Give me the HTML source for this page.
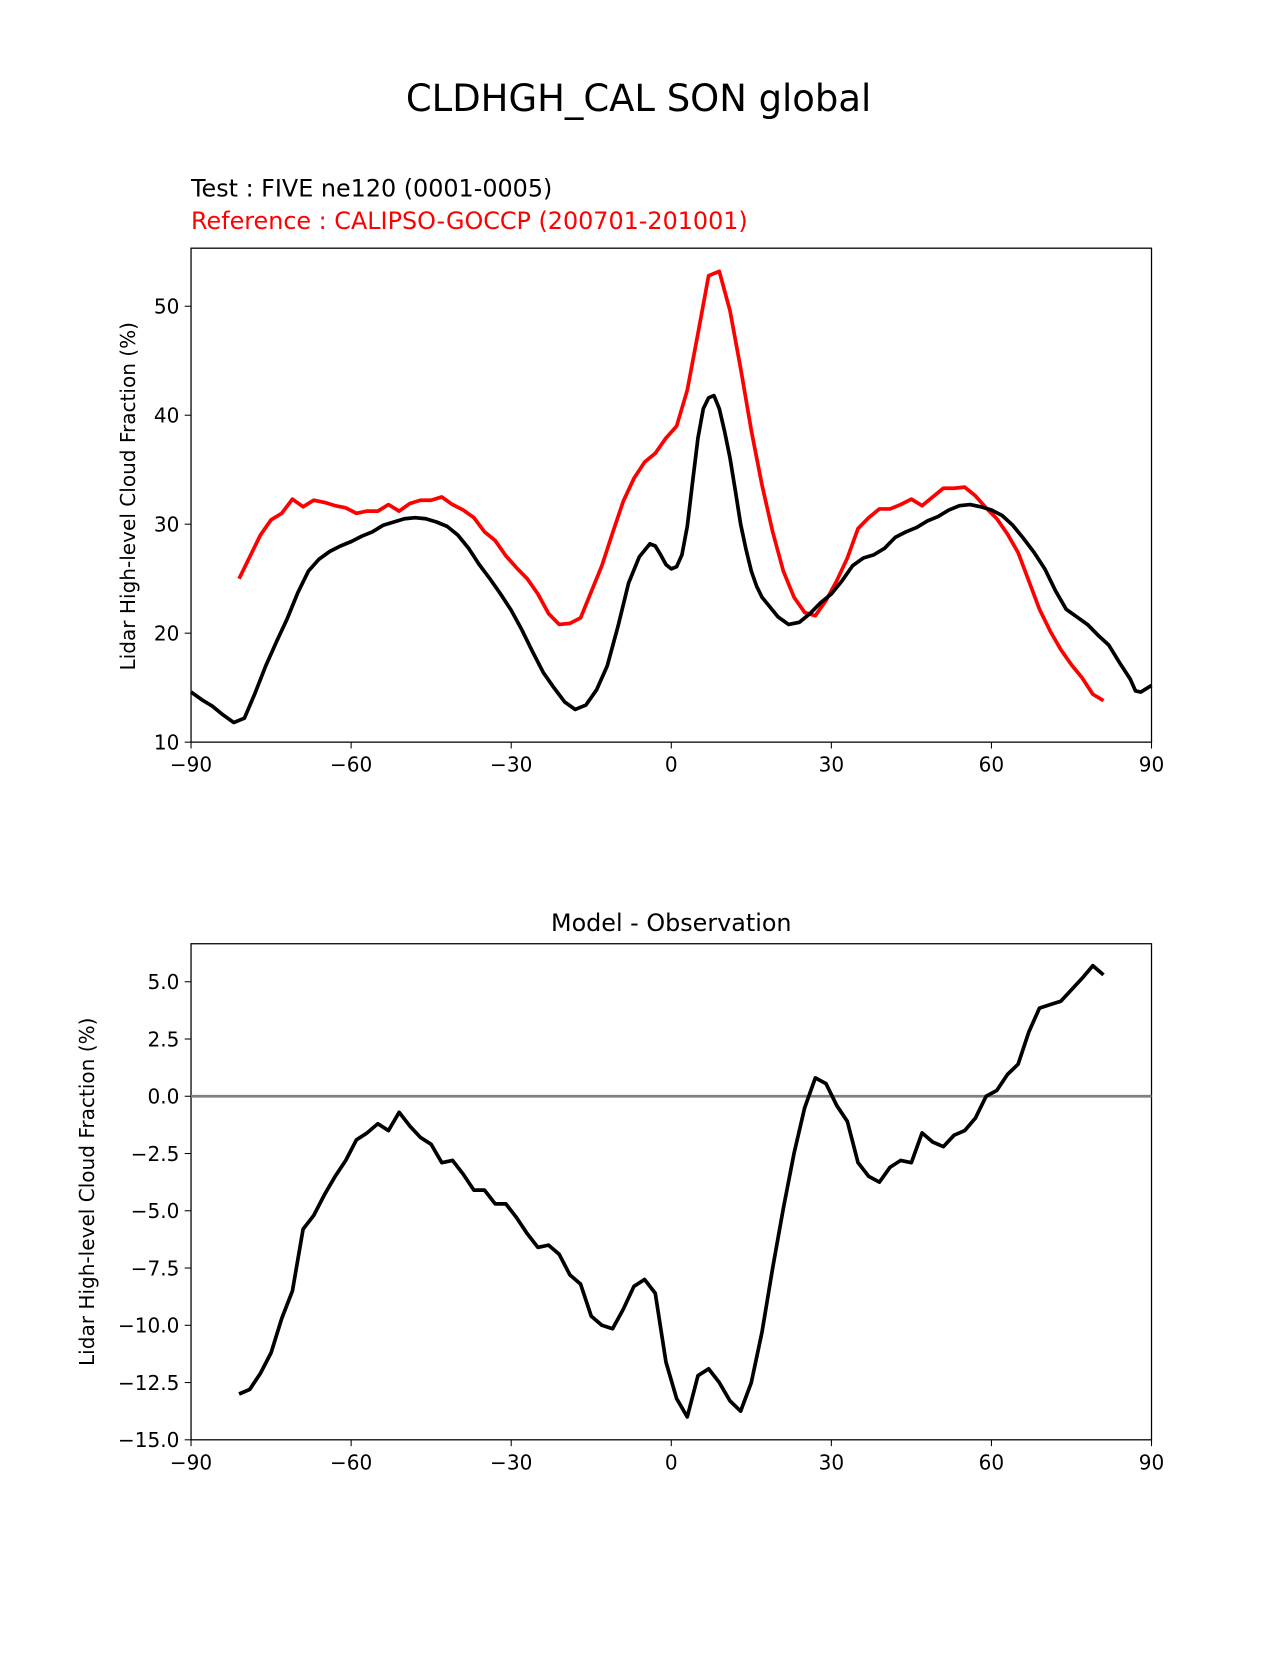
<!DOCTYPE html>
<html><head><meta charset="utf-8"><style>
body{margin:0;background:#fff}
svg text{font-family:"DejaVu Sans","Liberation Sans",sans-serif}
</style></head><body>
<svg id="s" width="1275" height="1650" viewBox="0 0 1208 1563" xmlns="http://www.w3.org/2000/svg">
<text x="605" y="105" font-size="35" text-anchor="middle">CLDHGH_CAL SON global</text>
<text x="181" y="186" font-size="22.6">Test : FIVE ne120 (0001-0005)</text>
<text x="181" y="217" font-size="22.6" fill="red">Reference : CALIPSO-GOCCP (200701-201001)</text>
<text x="636" y="882" font-size="22.6" text-anchor="middle">Model - Observation</text>
<g id="g"></g>
</svg>
<script>
const refLat=[-81,-79,-77,-75,-73,-71,-69,-67,-65,-63,-61,-59,-57,-55,-53,-51,-49,-47,-45,-43,-41,-39,-37,-35,-33,-31,-29,-27,-25,-23,-21,-19,-17,-15,-13,-11,-9,-7,-5,-3,-1,1,3,5,7,9,11,13,15,17,19,21,23,25,27,29,31,33,35,37,39,41,43,45,47,49,51,53,55,57,59,61,63,65,67,69,71,73,75,77,79,81];
const refVals=[25,27,29,30.4,31,32.3,31.6,32.2,32,31.7,31.5,31,31.2,31.2,31.8,31.2,31.9,32.2,32.2,32.5,31.8,31.3,30.6,29.3,28.5,27.1,26,25,23.6,21.8,20.8,20.9,21.4,23.8,26.2,29.2,32.1,34.2,35.7,36.5,37.9,39,42.3,47.5,52.8,53.2,49.6,44.3,38.6,33.6,29.3,25.7,23.3,21.9,21.6,23,24.8,26.9,29.6,30.6,31.4,31.4,31.8,32.3,31.7,32.5,33.3,33.3,33.4,32.6,31.5,30.5,29.1,27.4,24.8,22.2,20.2,18.5,17.1,15.9,14.4,13.8];
const testLat=[-90,-88,-86,-84,-82,-80,-78,-76,-74,-72,-70,-68,-66,-64,-62,-60,-58,-56,-54,-52,-50,-48,-46,-44,-42,-40,-38,-36,-34,-32,-30,-28,-26,-24,-22,-20,-18,-16,-14,-12,-10,-8,-6,-4,-3,-2,-1,0,1,2,3,4,5,6,7,8,9,10,11,12,13,14,15,16,17,18,20,22,24,26,28,30,32,34,36,38,40,42,44,46,48,50,52,54,56,58,60,62,64,66,68,70,72,74,76,78,80,82,84,86,87,88,90];
const testVals=[14.6,13.9,13.3,12.5,11.8,12.2,14.5,17,19.2,21.3,23.7,25.7,26.8,27.5,28,28.4,28.9,29.3,29.9,30.2,30.5,30.6,30.5,30.2,29.8,29,27.8,26.3,25,23.6,22.1,20.3,18.3,16.4,15,13.7,13,13.4,14.8,17,20.6,24.6,27,28.2,28,27.2,26.3,25.9,26.1,27.2,29.8,33.9,37.9,40.6,41.6,41.8,40.6,38.5,36.1,33.1,30,27.7,25.7,24.3,23.3,22.7,21.5,20.8,21,21.8,22.8,23.6,24.8,26.2,26.9,27.2,27.8,28.8,29.3,29.7,30.3,30.7,31.3,31.7,31.8,31.6,31.3,30.8,29.9,28.7,27.4,25.9,23.9,22.2,21.5,20.8,19.8,18.9,17.3,15.8,14.7,14.6,15.2];
const diffVals=[-13,-12.8,-12.1,-11.2,-9.7,-8.5,-5.8,-5.2,-4.3,-3.5,-2.8,-1.9,-1.6,-1.2,-1.5,-0.7,-1.3,-1.8,-2.1,-2.9,-2.8,-3.4,-4.1,-4.1,-4.7,-4.7,-5.3,-6,-6.6,-6.5,-6.9,-7.8,-8.2,-9.6,-10,-10.15,-9.3,-8.3,-8,-8.6,-11.6,-13.2,-14,-12.2,-11.9,-12.5,-13.3,-13.75,-12.5,-10.3,-7.5,-4.9,-2.5,-0.5,0.8,0.55,-0.4,-1.1,-2.9,-3.5,-3.75,-3.1,-2.8,-2.9,-1.6,-2,-2.2,-1.7,-1.5,-0.95,0,0.25,0.95,1.4,2.8,3.85,4,4.15,4.65,5.15,5.7,5.3];
const xTicks=[-90,-60,-30,0,30,60,90];
const topTicks=[10,20,30,40,50];
const botTicks=[-15,-12.5,-10,-7.5,-5,-2.5,0,2.5,5];
const botTickLabels=["\u221215.0","\u221212.5","\u221210.0","\u22127.5","\u22125.0","\u22122.5","0.0","2.5","5.0"];

const NS="http://www.w3.org/2000/svg",g=document.getElementById('g');
function mk(t,a,p){const e=document.createElementNS(NS,t);for(const k in a)e.setAttribute(k,a[k]);(p||g).appendChild(e);return e;}
const X=v=>181+(v+90)*910/180;
const Y1=v=>703-(v-10)*413/40;
const Y2=v=>1364-(v+15)*434/20;
function axes(top,bot,Y,yt,ytl,name){
 let r=mk('rect',{x:181,y:top,width:910,height:bot-top,fill:'none',stroke:'#000','stroke-width':1.2});
 
 
 xTicks.forEach(v=>{mk('line',{x1:X(v),x2:X(v),y1:bot,y2:bot+6,stroke:'#000'});
  let t=mk('text',{x:X(v),y:bot+28,'font-size':19,'text-anchor':'middle'});t.textContent=v<0?'\u2212'+(-v):v;
  
  });
 yt.forEach((v,i)=>{mk('line',{x1:175,x2:181,y1:Y(v),y2:Y(v),stroke:'#000'});
  let t=mk('text',{x:170,y:Y(v)+7,'font-size':19,'text-anchor':'end'});t.textContent=ytl[i];
  
  });
}
function line(xs,ys,Y,col,name){
 const p=mk('polyline',{points:xs.map((x,i)=>X(x)+','+Y(ys[i])).join(' '),fill:'none',stroke:col,'stroke-width':3.5,'stroke-linejoin':'round'});
 
 
}
axes(235,703,Y1,topTicks,topTicks.map(String),'top');
line(refLat,refVals,Y1,'red','reference-line');
line(testLat,testVals,Y1,'#000','test-line');
axes(894,1364,Y2,botTicks,botTickLabels,'bottom');
const z=mk('line',{x1:181,x2:1091,y1:Y2(0),y2:Y2(0),stroke:'#808080','stroke-width':2.5});


line(refLat,diffVals,Y2,'#000','difference-line');
let l1=mk('text',{x:0,y:0,'font-size':19,'text-anchor':'middle',transform:'translate(128,470) rotate(-90)'});l1.textContent='Lidar High-level Cloud Fraction (%)';


let l2=mk('text',{x:0,y:0,'font-size':19,'text-anchor':'middle',transform:'translate(89,1129) rotate(-90)'});l2.textContent='Lidar High-level Cloud Fraction (%)';


</script>
</body></html>
